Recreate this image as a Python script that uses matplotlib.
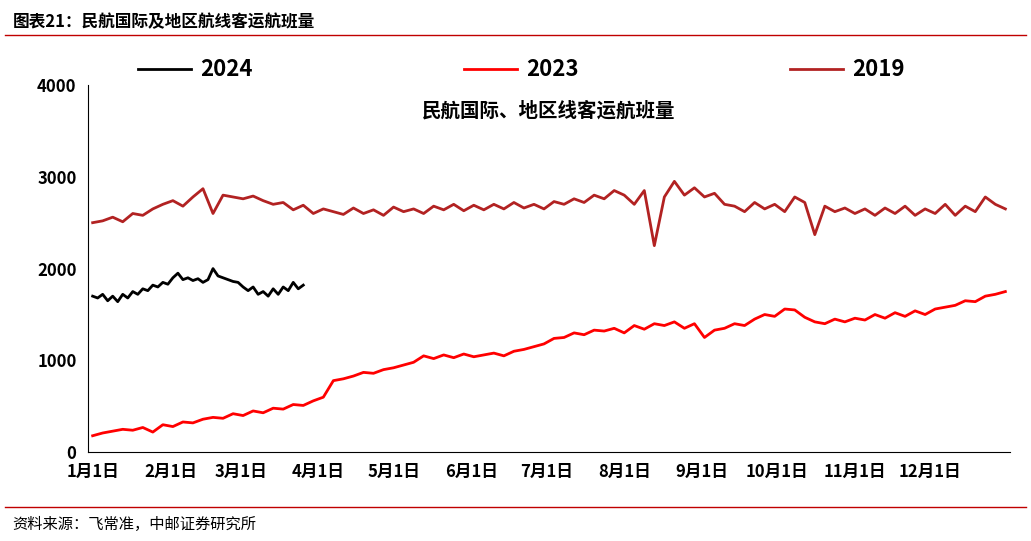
import numpy as np
import matplotlib
matplotlib.use("Agg")
import matplotlib.pyplot as plt

plt.rcParams['font.family'] = ['Noto Sans CJK SC', 'DejaVu Sans']

month_labels = ['1月1日', '2月1日', '3月1日', '4月1日', '5月1日', '6月1日',
                '7月1日', '8月1日', '9月1日', '10月1日', '11月1日', '12月1日']
month_days = [0, 31, 59, 90, 120, 151, 181, 212, 243, 273, 304, 334]

# 2019, one value every 4 days
days_2019 = np.arange(0, 365, 4)
vals_2019 = [2500, 2520, 2560, 2510, 2600, 2580, 2650, 2700, 2740, 2680, 2780, 2870,
             2600, 2800, 2780, 2760, 2790, 2740, 2700, 2720, 2640, 2690, 2600, 2650,
             2620, 2590, 2660, 2600, 2640, 2580, 2670, 2620, 2650, 2600, 2680, 2640,
             2700, 2630, 2690, 2640, 2700, 2650, 2720, 2660, 2700, 2650, 2730, 2700,
             2760, 2720, 2800, 2760, 2850, 2800, 2700, 2850, 2250, 2780, 2950, 2800,
             2880, 2780, 2820, 2700, 2680, 2620, 2720, 2650, 2700, 2620, 2780, 2720,
             2370, 2680, 2620, 2660, 2600, 2650, 2580, 2660, 2600, 2680, 2580, 2650,
             2600, 2700, 2580, 2680, 2620, 2780, 2700, 2650]

# 2023, one value every 4 days
days_2023 = np.arange(0, 365, 4)
vals_2023 = [180, 210, 230, 250, 240, 270, 220, 300, 280, 330, 320, 360,
             380, 370, 420, 400, 450, 430, 480, 470, 520, 510, 560, 600,
             780, 800, 830, 870, 860, 900, 920, 950, 980, 1050, 1020, 1060,
             1030, 1070, 1040, 1060, 1080, 1050, 1100, 1120, 1150, 1180, 1240, 1250,
             1300, 1280, 1330, 1320, 1350, 1300, 1380, 1340, 1400, 1380, 1420, 1350,
             1400, 1250, 1330, 1350, 1400, 1380, 1450, 1500, 1480, 1560, 1550, 1470,
             1420, 1400, 1450, 1420, 1460, 1440, 1500, 1460, 1520, 1480, 1540, 1500,
             1560, 1580, 1600, 1650, 1640, 1700, 1720, 1750]

# 2024, one value every 2 days
days_2024 = np.arange(0, 86, 2)
vals_2024 = [1700, 1680, 1720, 1650, 1700, 1640, 1720, 1680, 1750, 1720, 1780, 1760,
             1820, 1800, 1850, 1830, 1900, 1950, 1880, 1900, 1870, 1890, 1850, 1880,
             2000, 1920, 1900, 1880, 1860, 1850, 1800, 1760, 1800, 1720, 1750, 1700,
             1780, 1720, 1800, 1760, 1850, 1780, 1820]

fig = plt.figure(figsize=(10.31, 5.41), dpi=100)
ax = fig.add_axes([0.085, 0.164, 0.895, 0.679])

ax.plot(days_2024, vals_2024, color='black', lw=2, label='2024')
ax.plot(days_2023, vals_2023, color='#ff0000', lw=2, label='2023')
ax.plot(days_2019, vals_2019, color='#b22222', lw=2, label='2019')

ax.set_xlim(-2, 366)
ax.set_ylim(0, 4000)
ax.set_yticks([0, 1000, 2000, 3000, 4000])
ax.set_xticks(month_days)
ax.set_xticklabels(month_labels)
for lab in ax.get_xticklabels() + ax.get_yticklabels():
    lab.set_fontweight('bold')
    lab.set_fontsize(12)
ax.spines['top'].set_visible(False)
ax.spines['right'].set_visible(False)
ax.tick_params(length=0, pad=8)

ax.text(0.5, 0.93, '民航国际、地区线客运航班量', transform=ax.transAxes,
        ha='center', va='center', fontsize=14, fontweight='bold')
ax.legend(loc='lower center', bbox_to_anchor=(0.47, 0.955), ncol=3, frameon=False,
          prop={'weight': 'bold', 'size': 16}, handlelength=2.4, handletextpad=0.4,
          columnspacing=9.5)

fig.text(0.012, 0.96, '图表21：民航国际及地区航线客运航班量', fontsize=12, fontweight='bold', va='center')
fig.add_artist(plt.Line2D([0.005, 0.995], [0.935, 0.935], color='#c00000', lw=1))
fig.add_artist(plt.Line2D([0.005, 0.995], [0.063, 0.063], color='#c00000', lw=1))
fig.text(0.012, 0.03, '资料来源：飞常准，中邮证券研究所', fontsize=11, va='center')

fig.savefig('out.png', dpi=100)
